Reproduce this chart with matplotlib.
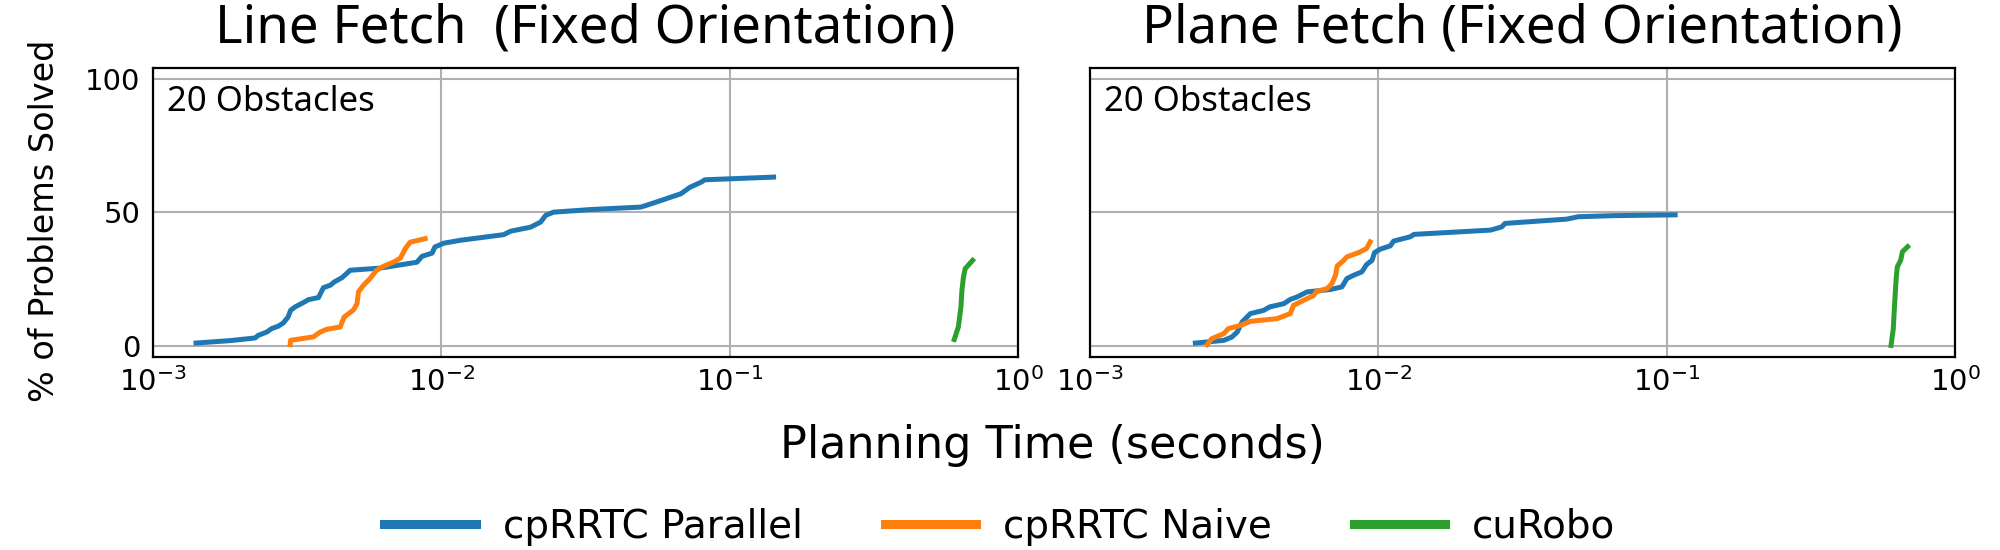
import matplotlib
matplotlib.use("Agg")
import matplotlib.pyplot as plt
import numpy as np

# ---------------- data ----------------
line_parallel_t = [1.41e-3, 1.85e-3, 2.26e-3, 2.32e-3, 2.48e-3, 2.58e-3, 2.72e-3, 2.83e-3, 2.94e-3,
                   3.0e-3, 3.11e-3, 3.32e-3, 3.46e-3, 3.75e-3, 3.9e-3, 4.12e-3, 4.25e-3, 4.52e-3,
                   4.83e-3, 6.14e-3, 7.01e-3, 8.23e-3, 8.57e-3, 9.29e-3, 9.5e-3, 1.019e-2, 1.165e-2,
                   1.645e-2, 1.74e-2, 2.04e-2, 2.21e-2, 2.30e-2, 2.45e-2, 3.32e-2, 4.92e-2, 5.47e-2,
                   6.78e-2, 7.28e-2, 7.96e-2, 8.2e-2, 0.142]
line_parallel_y = [1.2, 2.1, 3.1, 4.1, 5.3, 6.6, 7.5, 8.7, 10.9,
                   13.4, 14.7, 16.3, 17.4, 18.2, 21.9, 22.8, 24.0, 25.6,
                   28.4, 29.2, 30.2, 31.4, 33.6, 34.8, 37.1, 38.5, 39.6,
                   41.7, 43.0, 44.5, 46.4, 48.9, 50.1, 51.1, 52.0, 53.6,
                   57.0, 59.4, 61.3, 62.2, 63.2]

line_naive_t = [2.99e-3, 3.0e-3, 3.6e-3, 3.8e-3, 4.0e-3, 4.46e-3, 4.6e-3, 4.8e-3, 4.97e-3, 5.1e-3,
                5.16e-3, 5.37e-3, 5.66e-3, 5.96e-3, 6.31e-3, 6.84e-3, 7.21e-3, 7.5e-3, 7.8e-3, 8.79e-3]
line_naive_y = [0.6, 2.2, 3.5, 5.3, 6.3, 7.2, 10.9, 12.4, 13.7, 15.9,
                20.3, 22.8, 25.3, 28.4, 29.9, 31.5, 32.9, 36.5, 38.9, 40.2]

line_curobo_t = [0.601, 0.621, 0.634, 0.639, 0.647, 0.656, 0.696]
line_curobo_y = [2.5, 7.2, 14.7, 20.9, 25.9, 29.0, 32.1]

plane_parallel_t = [2.32e-3, 2.55e-3, 2.91e-3, 3.1e-3, 3.24e-3, 3.37e-3, 3.6e-3, 4.0e-3, 4.2e-3,
                    4.7e-3, 4.95e-3, 5.22e-3, 5.66e-3, 6.82e-3, 7.48e-3, 7.78e-3, 8.2e-3, 8.77e-3,
                    9.1e-3, 9.51e-3, 9.7e-3, 1.016e-2, 1.10e-2, 1.13e-2, 1.29e-2, 1.33e-2, 2.45e-2,
                    2.68e-2, 2.75e-2, 4.5e-2, 4.94e-2, 6.55e-2, 0.107]
plane_parallel_y = [1.2, 1.6, 2.2, 3.4, 5.3, 9.1, 12.2, 13.4, 14.7,
                    15.9, 17.5, 18.4, 20.3, 21.2, 22.2, 25.3, 26.5, 27.8,
                    30.5, 32.1, 35.0, 36.3, 37.5, 39.3, 40.9, 41.8, 43.4,
                    44.6, 45.9, 47.5, 48.4, 48.8, 49.1]

plane_naive_t = [2.55e-3, 2.64e-3, 2.91e-3, 3.02e-3, 3.33e-3, 3.6e-3, 4.45e-3, 4.95e-3, 5.08e-3,
                 5.66e-3, 5.97e-3, 6.1e-3, 6.64e-3, 6.9e-3, 7.1e-3, 7.2e-3, 7.59e-3, 7.78e-3,
                 8.55e-3, 9.1e-3, 9.37e-3]
plane_naive_y = [0.6, 2.8, 4.7, 6.6, 7.8, 9.3, 10.3, 12.2, 15.3,
                 17.8, 19.0, 20.5, 21.5, 23.4, 26.5, 30.0, 32.1, 33.4,
                 35.0, 36.5, 39.0]

plane_curobo_t = [0.600, 0.611, 0.617, 0.625, 0.631, 0.648, 0.657, 0.685]
plane_curobo_y = [0.3, 6.6, 15.3, 25.3, 29.7, 32.1, 35.3, 37.2]

titles = ["Line Fetch  (Fixed Orientation)", "Plane Fetch (Fixed Orientation)"]
panel_note = "20 Obstacles"
series_names = ["cpRRTC Parallel", "cpRRTC Naive", "cuRobo"]
colors = ["#1f77b4", "#ff7f0e", "#2ca02c"]
yticks = [0, 50, 100]

# ---------------- figure ----------------
plt.rcParams['font.family'] = ['DejaVu Sans']
fig = plt.figure(figsize=(20, 5.5), dpi=100)
ax1 = fig.add_axes([0.0765, 0.351, 0.4325, 0.5255])
ax2 = fig.add_axes([0.545, 0.351, 0.4325, 0.5255], sharey=ax1)

panels = [
    (ax1, [(line_parallel_t, line_parallel_y), (line_naive_t, line_naive_y), (line_curobo_t, line_curobo_y)]),
    (ax2, [(plane_parallel_t, plane_parallel_y), (plane_naive_t, plane_naive_y), (plane_curobo_t, plane_curobo_y)]),
]

handles = []
for i, (ax, series) in enumerate(panels):
    for j, (t, y) in enumerate(series):
        ln, = ax.plot(t, y, color=colors[j], lw=3.6, label=series_names[j], zorder=3)
        if i == 0:
            handles.append(ln)
    ax.set_xscale('log')
    ax.set_xlim(1e-3, 1e0)
    ax.set_ylim(-4, 104)
    ax.set_yticks(yticks)
    ax.grid(True, which='major', color='#b0b0b0', lw=1.5, zorder=0)
    ax.tick_params(axis='both', which='both', length=0, labelsize=21)
    ax.tick_params(axis='y', pad=9)
    ax.tick_params(axis='x', pad=7)
    for s in ax.spines.values():
        s.set_linewidth(1.6)
    ax.set_title(titles[i], fontsize=38, family=['Noto Sans', 'DejaVu Sans'], pad=18)
    ax.text(0.016, 0.94, panel_note, transform=ax.transAxes, fontsize=25,
            family=['Noto Sans', 'DejaVu Sans'], va='top', ha='left')

plt.setp(ax2.get_yticklabels(), visible=False)

ax1.set_ylabel("% of Problems Solved", fontsize=24)
ax1.yaxis.set_label_coords(-0.106, 0.47)

fig.text(0.526, 0.167, "Planning Time (seconds)", fontsize=32, ha='center', va='baseline')

leg = fig.legend(handles=handles, labels=series_names, loc='center', bbox_to_anchor=(0.5, 0.042),
                 ncol=3, frameon=False, fontsize=28, handlelength=2.35, handletextpad=0.7,
                 columnspacing=2.1)
for l in leg.get_lines():
    l.set_linewidth(6.5)

fig.savefig("out.png", dpi=100)
